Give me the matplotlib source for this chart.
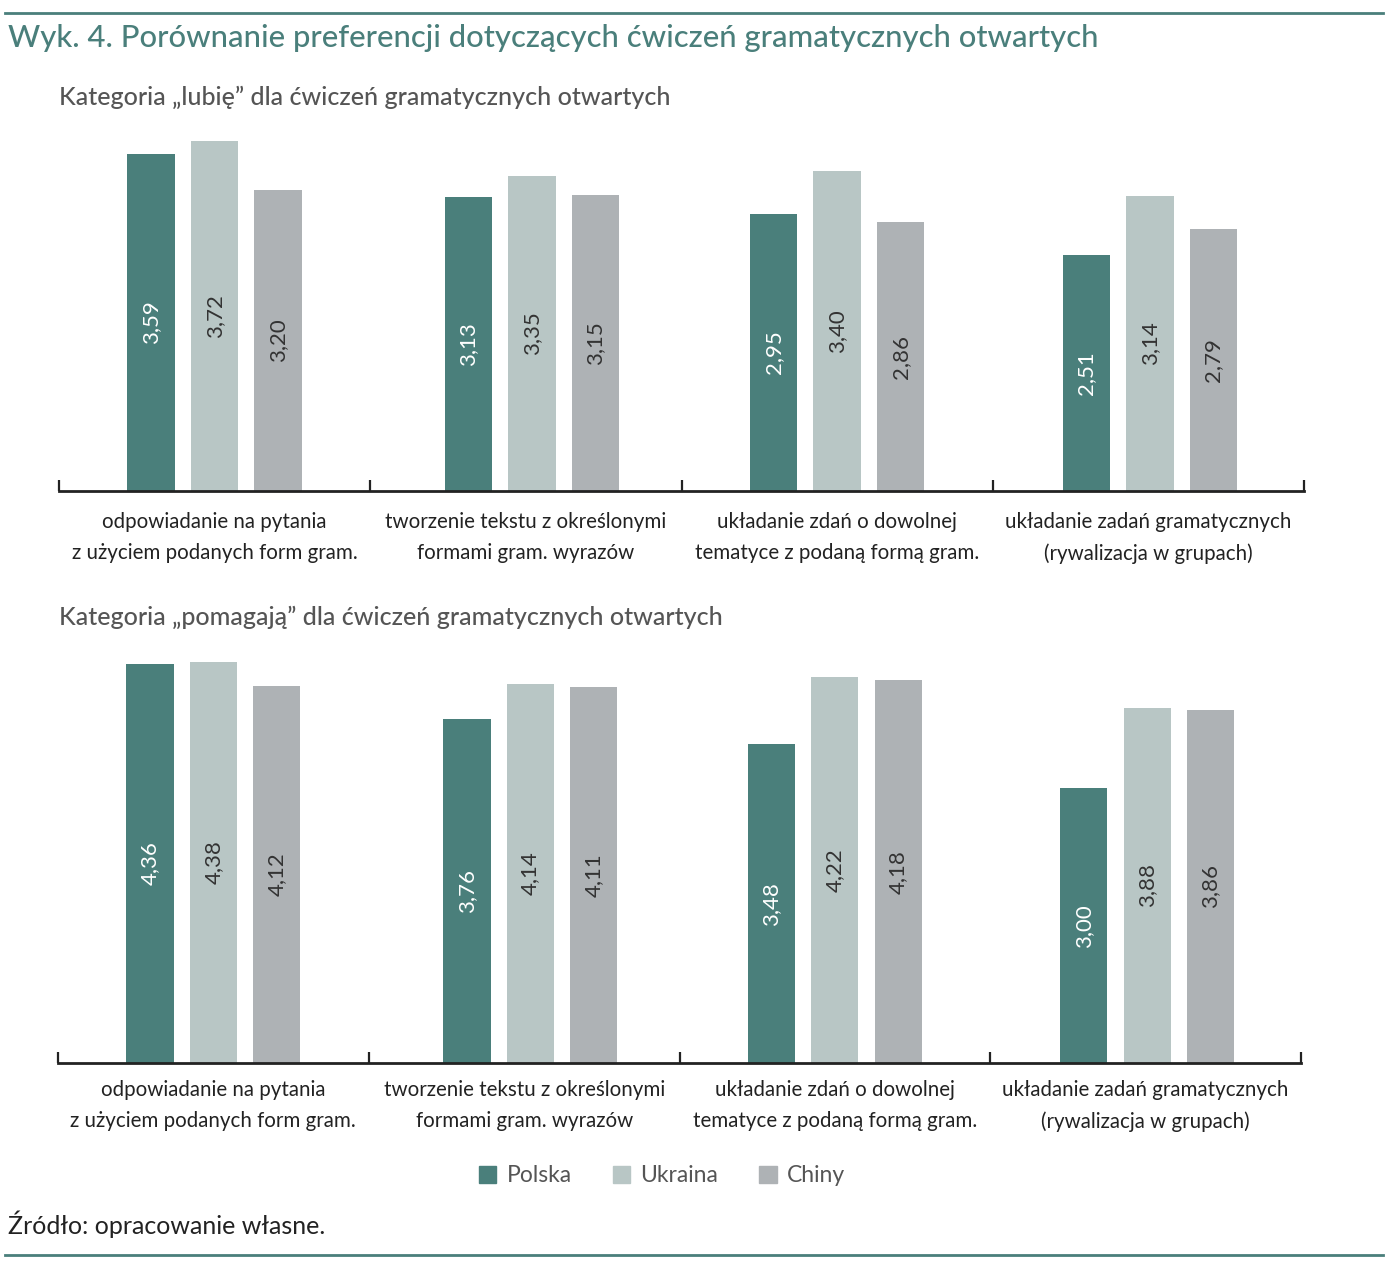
import numpy as np
import matplotlib.pyplot as plt
from matplotlib.patches import Rectangle

# dane
kategorie = ["odpowiadanie na pytania\nz użyciem podanych form gram.",
             "tworzenie tekstu z określonymi\nformami gram. wyrazów",
             "układanie zdań o dowolnej\ntematyce z podaną formą gram.",
             "układanie zadań gramatycznych\n(rywalizacja w grupach)"]
kraje = ["Polska", "Ukraina", "Chiny"]

lubie_polska = [3.59, 3.13, 2.95, 2.51]
lubie_ukraina = [3.72, 3.35, 3.40, 3.14]
lubie_chiny = [3.20, 3.15, 2.86, 2.79]

pomagaja_polska = [4.36, 3.76, 3.48, 3.00]
pomagaja_ukraina = [4.38, 4.14, 4.22, 3.88]
pomagaja_chiny = [4.12, 4.11, 4.18, 3.86]

kolory = ["#4a7f7b", "#b8c6c5", "#aeb2b5"]
kolor_etykiet = ["white", "#333333", "#333333"]
TEAL = "#4a7f7b"

plt.rcParams['font.family'] = ['Lato', 'DejaVu Sans']

fig = plt.figure(figsize=(13.96, 12.68), dpi=100)


def wykres(ax, serie, ymax, pad):
    x = np.arange(len(kategorie)) + 0.5
    srodki = x + np.array([0.0, 0.02, 0.0, 0.005])
    szer = 0.152
    odst = 0.204
    for i, (wart, kol) in enumerate(zip(serie, kolory)):
        pos = srodki + (i - 1) * odst
        bars = ax.bar(pos, wart, width=szer, color=kol, zorder=2)
        for b, v in zip(bars, wart):
            ax.text(b.get_x() + b.get_width() / 2, v / 2, f"{v:.2f}".replace(".", ","),
                    rotation=90, ha='center', va='center', fontsize=16,
                    color=kolor_etykiet[i])
    ax.set_xlim(0, len(kategorie))
    ax.set_ylim(0, ymax)
    ax.set_xticks(np.arange(len(kategorie) + 1))
    ax.set_xticklabels([])
    ax.set_xticks(x, minor=True)
    ax.set_xticklabels(kategorie, minor=True, fontsize=14.8, color='#222222',
                       linespacing=1.72)
    ax.tick_params(axis='x', which='major', direction='in', length=8, width=1.6,
                   color='#222222')
    ax.tick_params(axis='x', which='minor', length=0, pad=pad)
    ax.set_yticks([])
    for s in ['top', 'right', 'left']:
        ax.spines[s].set_visible(False)
    ax.spines['bottom'].set_linewidth(2)
    ax.spines['bottom'].set_color('#222222')


ax1 = fig.add_axes([59 / 1396, (1268 - 491) / 1268, 1245 / 1396, 376 / 1268])
wykres(ax1, [lubie_polska, lubie_ukraina, lubie_chiny], 4.0, 15)

ax2 = fig.add_axes([58 / 1396, (1268 - 1063) / 1268, 1243 / 1396, 412 / 1268])
wykres(ax2, [pomagaja_polska, pomagaja_ukraina, pomagaja_chiny], 4.5, 12)

# linie poziome
fig.add_artist(plt.Line2D([5 / 1396, 1383 / 1396], [1 - 13 / 1268] * 2, color=TEAL, lw=2))
fig.add_artist(plt.Line2D([5 / 1396, 1383 / 1396], [1 - 1255 / 1268] * 2, color=TEAL, lw=2))

# teksty
fig.text(8 / 1396, 1 - 38 / 1268, "Wyk. 4. Porównanie preferencji dotyczących ćwiczeń gramatycznych otwartych",
         fontsize=22.3, color=TEAL, va='center', ha='left', fontweight='medium')
fig.text(59 / 1396, 1 - 97 / 1268, "Kategoria „lubię” dla ćwiczeń gramatycznych otwartych",
         fontsize=18, color='#555555', va='center', ha='left', fontweight='medium')
fig.text(59 / 1396, 1 - 617 / 1268, "Kategoria „pomagają” dla ćwiczeń gramatycznych otwartych",
         fontsize=18, color='#555555', va='center', ha='left', fontweight='medium')
fig.text(8 / 1396, 1 - 1224 / 1268, "Źródło: opracowanie własne.",
         fontsize=18, color='#222222', va='center', ha='left')

# legenda
uchwyty = [Rectangle((0, 0), 1, 1, color=k) for k in kolory]
fig.legend(uchwyty, kraje, loc='center', bbox_to_anchor=(662 / 1396, 1 - 1176 / 1268),
           ncol=3, frameon=False, fontsize=16.5, handlelength=0.75, handleheight=0.75,
           handletextpad=0.45, columnspacing=1.8, labelcolor='#555555')

fig.savefig("out.png", dpi=100)
